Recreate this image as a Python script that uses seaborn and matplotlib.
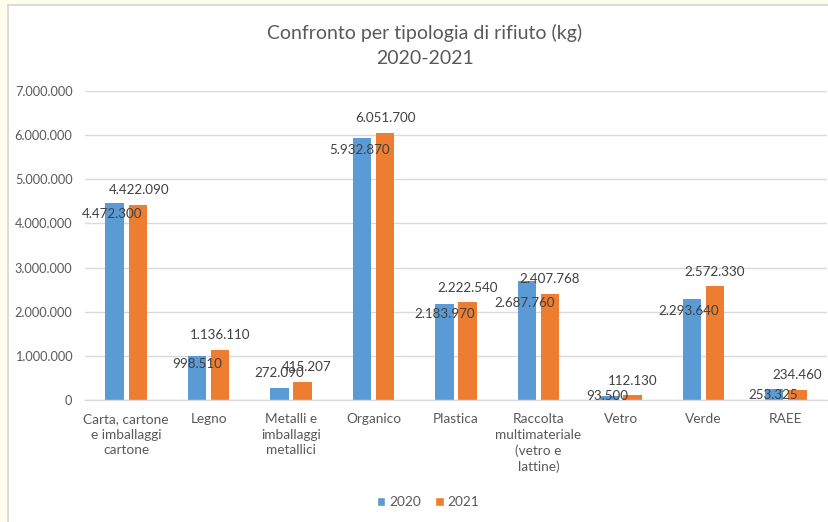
import matplotlib
matplotlib.use("Agg")
import matplotlib.pyplot as plt
from matplotlib.ticker import FuncFormatter, MultipleLocator
from matplotlib.patches import Rectangle
import seaborn as sns
import pandas as pd

# ---- data ----
categories = [
    "Carta, cartone\ne imballaggi\ncartone",
    "Legno",
    "Metalli e\nimballaggi\nmetallici",
    "Organico",
    "Plastica",
    "Raccolta\nmultimateriale\n(vetro e\nlattine)",
    "Vetro",
    "Verde",
    "RAEE",
]
values_2020 = [4472300, 998510, 272090, 5932870, 2183970, 2687760, 93500, 2293640, 253325]
values_2021 = [4422090, 1136110, 415207, 6051700, 2222540, 2407768, 112130, 2572330, 234460]
years = ["2020", "2021"]

# label offsets (pixels, from bar top centre) as placed in the reference
off_2020 = [(-3, -11), (0, -8), (0, 15), (-2, -12), (0, -10), (-2, -22), (-2, 0), (-3, -12), (-1, -6)]
off_2021 = [(1, 15), (0, 15), (4, 15), (0, 14.5), (0, 14), (0, 15), (0, 14), (0, 14.5), (0, 14.5)]

df = pd.DataFrame({
    "Categoria": categories * 2,
    "Anno": [years[0]] * len(categories) + [years[1]] * len(categories),
    "Valore": values_2020 + values_2021,
})

FONT = ["Lato", "DejaVu Sans"]
sns.set_style("white")
plt.rcParams["font.family"] = FONT

W, H = 829, 522
fig = plt.figure(figsize=(W / 100, H / 100), dpi=100)
fig.patch.set_facecolor("#FEFEEE")
fig.patches.append(Rectangle((8 / W, -0.01), 1.02, (H - 5) / H + 0.01, transform=fig.transFigure,
                             facecolor="white", edgecolor="#D4D4D4", linewidth=1.2, zorder=-5))

ax = fig.add_axes([85 / W, (H - 400) / H, 742 / W, 309 / H])
ax.set_zorder(1)
ax.patch.set_alpha(0)

palette = {"2020": "#5B9BD5", "2021": "#ED7D31"}
sns.barplot(data=df, x="Categoria", y="Valore", hue="Anno", palette=palette,
            width=0.56, gap=0.2, ax=ax, legend=False, linewidth=0, saturation=1)

ax.set_xlim(-0.5, len(categories) - 0.5)
ax.set_ylim(0, 7000000)
ax.yaxis.set_major_locator(MultipleLocator(1000000))
ax.yaxis.set_major_formatter(FuncFormatter(lambda v, p: f"{int(v):,}".replace(",", ".")))
ax.grid(axis="y", color="#D9D9D9", linewidth=1)
ax.set_axisbelow(True)
for s in ["top", "right", "left"]:
    ax.spines[s].set_visible(False)
ax.spines["bottom"].set_color("#D9D9D9")
ax.spines["bottom"].set_linewidth(1)
ax.tick_params(axis="both", length=0)
ax.tick_params(axis="y", pad=9, labelsize=9.2, labelcolor="#595959")
ax.tick_params(axis="x", pad=9.5, labelsize=9.8, labelcolor="#595959")
for lbl in ax.get_xticklabels():
    lbl.set_linespacing(1.35)
    lbl.set_verticalalignment("top")
ax.set_xlabel("")
ax.set_ylabel("")

# data labels
for cont, offs in zip(ax.containers, [off_2020, off_2021]):
    for bar, (dx, dy) in zip(cont, offs):
        h = bar.get_height()
        cx = bar.get_x() + bar.get_width() / 2
        ax.annotate(f"{int(round(h)):,}".replace(",", "."), xy=(cx, h),
                    xytext=(dx * 0.72, dy * 0.72), textcoords="offset points",
                    ha="center", va="center", fontsize=9.6, color="#404040")

fig.text(425 / W, 1 - 33 / H, "Confronto per tipologia di rifiuto (kg)", ha="center", va="center",
         fontsize=14, color="#595959")
fig.text(425 / W, 1 - 58 / H, "2020-2021", ha="center", va="center",
         fontsize=14, color="#595959")

handles = [Rectangle((0, 0), 1, 1, facecolor=palette[y]) for y in years]
fig.legend(handles, years, loc="center", bbox_to_anchor=(428 / W, 1 - 502 / H), ncol=2,
           frameon=False, fontsize=9.8, labelcolor="#595959", handlelength=0.65, handleheight=0.65,
           handletextpad=0.3, columnspacing=1.0)

fig.savefig("out.png", dpi=100, facecolor=fig.get_facecolor())
